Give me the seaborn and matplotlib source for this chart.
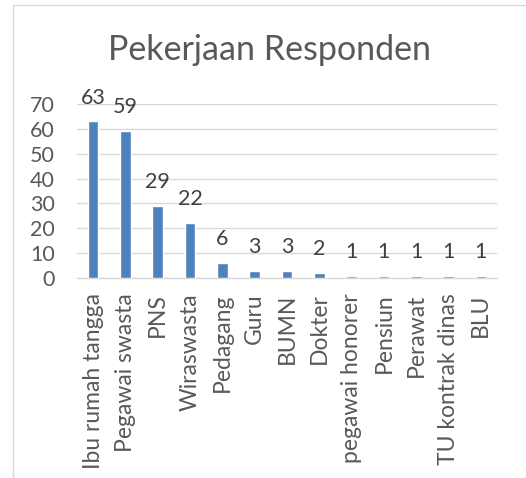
import matplotlib
matplotlib.use("Agg")
import pandas as pd
import seaborn as sns
import matplotlib.pyplot as plt
from matplotlib.lines import Line2D

# Data
pekerjaan = ["Ibu rumah tangga", "Pegawai swasta", "PNS", "Wiraswasta", "Pedagang",
             "Guru", "BUMN", "Dokter", "pegawai honorer", "Pensiun", "Perawat",
             "TU kontrak dinas", "BLU"]
jumlah = [63, 59, 29, 22, 6, 3, 3, 2, 1, 1, 1, 1, 1]
y_ticks = [0, 10, 20, 30, 40, 50, 60, 70]

df = pd.DataFrame({"pekerjaan": pekerjaan, "jumlah": jumlah})

sns.set_style("white")
plt.rcParams["font.family"] = ["Lato", "DejaVu Sans"]

fig = plt.figure(figsize=(5.26, 4.78), dpi=100)
ax = fig.add_axes([0.1464, 0.4184, 0.7985, 0.364])

sns.barplot(data=df, x="pekerjaan", y="jumlah", color="#4F81BD", saturation=1,
            width=0.33, ax=ax, zorder=3)

ax.set_ylim(0, 70)
ax.set_xlim(-0.5, len(pekerjaan) - 0.5)
ax.set_yticks(y_ticks)
ax.yaxis.grid(True, color="#D9D9D9", linewidth=1.0, zorder=0)
ax.set_axisbelow(True)
for side in ["left", "right", "top"]:
    ax.spines[side].set_visible(False)
ax.spines["bottom"].set_color("#D9D9D9")
ax.spines["bottom"].set_linewidth(1.0)

ax.tick_params(axis="y", length=0, pad=16, labelsize=15.5, labelcolor="#595959")
ax.tick_params(axis="x", length=0, pad=11, labelsize=16.5, labelcolor="#595959")
plt.setp(ax.get_xticklabels(), rotation=90, ha="center", va="top")
ax.set_xlabel("")
ax.set_ylabel("")

ax.bar_label(ax.containers[0], padding=10, fontsize=15.5, color="#404040")

fig.text(0.513, 0.895, "Pekerjaan Responden", ha="center", va="center",
         fontsize=24.5, color="#595959")

# chart border (left and top edges visible)
fig.add_artist(Line2D([0.0247, 0.0247], [0.0, 0.9895], color="#D9D9D9", linewidth=1.0))
fig.add_artist(Line2D([0.0247, 1.0], [0.9895, 0.9895], color="#D9D9D9", linewidth=1.0))

fig.savefig("out.png", dpi=100)
